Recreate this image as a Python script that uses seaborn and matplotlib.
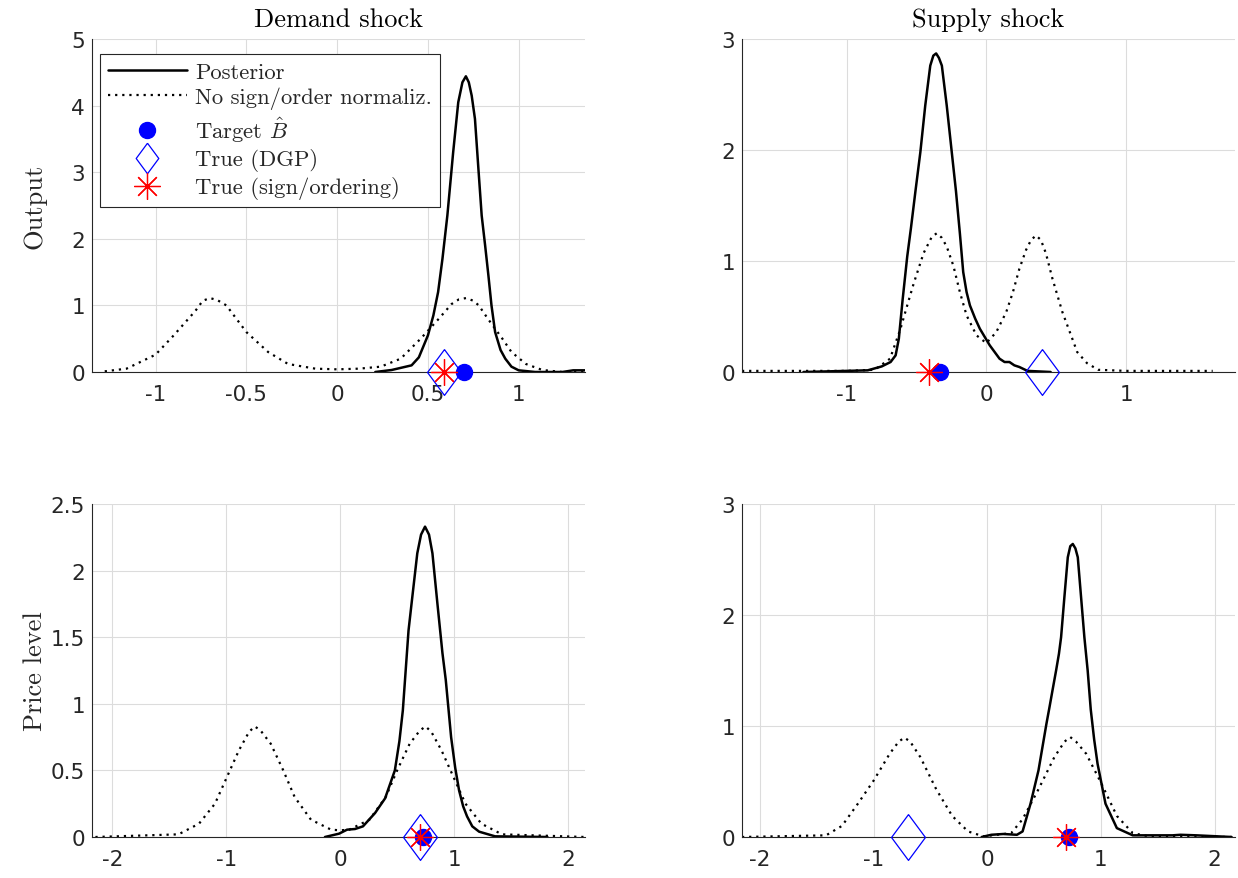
import matplotlib
matplotlib.use("Agg")
import matplotlib.pyplot as plt
import seaborn as sns
from matplotlib.lines import Line2D

# ---- Demand shock -> Output (top left) ----
do_post_x = [0.21, 0.30, 0.41, 0.45, 0.50, 0.53, 0.556, 0.58, 0.607, 0.639, 0.667, 0.69, 0.709,
             0.725, 0.741, 0.759, 0.778, 0.796, 0.815, 0.833, 0.85, 0.87, 0.90, 0.926, 0.96,
             1.0, 1.09, 1.24, 1.30, 1.38]
do_post_y = [0.0, 0.03, 0.10, 0.22, 0.55, 0.85, 1.2, 1.7, 2.35, 3.3, 4.05, 4.35, 4.44,
             4.35, 4.15, 3.8, 3.05, 2.35, 1.9, 1.45, 1.0, 0.6, 0.33, 0.2, 0.08,
             0.025, 0.0, 0.0, 0.025, 0.025]
do_raw_x = [-1.28, -1.16, -1.0, -0.9, -0.78, -0.74, -0.7, -0.66, -0.61, -0.5, -0.38, -0.27, -0.12,
            0.0, 0.12, 0.24, 0.35, 0.46, 0.56, 0.63, 0.67, 0.71, 0.75, 0.78, 0.83, 0.91, 0.96,
            1.04, 1.13, 1.24, 1.36]
do_raw_y = [0.01, 0.05, 0.26, 0.55, 0.92, 1.07, 1.11, 1.08, 1.0, 0.6, 0.3, 0.12, 0.05,
            0.04, 0.05, 0.08, 0.2, 0.5, 0.8, 1.02, 1.09, 1.11, 1.07, 1.0, 0.8, 0.5, 0.3,
            0.12, 0.03, 0.0, 0.0]
do_marks = {"target": 0.70, "dgp": 0.59, "sign": 0.59}

# ---- Supply shock -> Output (top right) ----
so_post_x = [-1.31, -0.85, -0.75, -0.686, -0.65, -0.627, -0.6, -0.567, -0.54, -0.508, -0.473,
             -0.438, -0.402, -0.38, -0.36, -0.34, -0.319, -0.284, -0.248, -0.218, -0.19, -0.166,
             -0.142, -0.118, -0.08, -0.047, 0.024, 0.094, 0.13, 0.165, 0.2, 0.236, 0.294, 0.46]
so_post_y = [0.0, 0.015, 0.05, 0.09, 0.15, 0.3, 0.65, 1.04, 1.3, 1.63, 1.98,
             2.40, 2.76, 2.85, 2.87, 2.83, 2.76, 2.40, 1.98, 1.63, 1.25, 0.9,
             0.72, 0.6, 0.48, 0.39, 0.24, 0.12, 0.09, 0.09, 0.06, 0.045, 0.01, 0.0]
so_raw_x = [-1.75, -1.0, -0.8, -0.69, -0.615, -0.567, -0.52, -0.45, -0.39, -0.355, -0.32, -0.284,
            -0.236, -0.19, -0.142, -0.071, 0.0, 0.071, 0.142, 0.19, 0.236, 0.284, 0.32, 0.355,
            0.39, 0.426, 0.473, 0.544, 0.615, 0.65, 0.72, 0.8, 1.0, 1.62]
so_raw_y = [0.01, 0.01, 0.02, 0.12, 0.39, 0.6, 0.8, 1.07, 1.22, 1.25, 1.21, 1.13,
            0.955, 0.72, 0.51, 0.33, 0.26, 0.36, 0.54, 0.72, 0.93, 1.1, 1.19, 1.23,
            1.19, 1.07, 0.84, 0.54, 0.3, 0.18, 0.08, 0.02, 0.01, 0.01]
so_marks = {"target": -0.33, "dgp": 0.40, "sign": -0.41}

# ---- Demand shock -> Price level (bottom left) ----
dp_post_x = [-0.134, -0.01, 0.06, 0.13, 0.20, 0.306, 0.394, 0.48, 0.52, 0.55, 0.575, 0.60, 0.633,
             0.677, 0.71, 0.745, 0.78, 0.81, 0.854, 0.898, 0.927, 0.95, 0.974, 1.01, 1.044,
             1.08, 1.114, 1.16, 1.22, 1.36, 1.82]
dp_post_y = [0.0, 0.025, 0.055, 0.06, 0.08, 0.18, 0.29, 0.5, 0.72, 0.95, 1.25, 1.55, 1.8,
             2.13, 2.27, 2.33, 2.27, 2.13, 1.75, 1.38, 1.18, 0.97, 0.75, 0.52, 0.35,
             0.23, 0.155, 0.08, 0.04, 0.005, 0.0]
dp_raw_x = [-2.15, -1.42, -1.24, -1.1, -0.995, -0.89, -0.8, -0.75, -0.7, -0.61, -0.5, -0.4, -0.257,
            -0.08, 0.0, 0.08, 0.257, 0.4, 0.5, 0.61, 0.7, 0.75, 0.8, 0.89, 0.995, 1.1, 1.24,
            1.42, 2.15]
dp_raw_y = [0.0, 0.02, 0.1, 0.25, 0.45, 0.65, 0.79, 0.83, 0.8, 0.7, 0.5, 0.3, 0.13,
            0.055, 0.05, 0.055, 0.13, 0.3, 0.5, 0.7, 0.8, 0.83, 0.79, 0.65, 0.45, 0.25, 0.1,
            0.02, 0.0]
dp_marks = {"target": 0.73, "dgp": 0.70, "sign": 0.70}

# ---- Supply shock -> Price level (bottom right) ----
sp_post_x = [-0.05, 0.035, 0.14, 0.26, 0.31, 0.38, 0.45, 0.52, 0.547, 0.575, 0.605, 0.63, 0.649,
             0.678, 0.708, 0.73, 0.752, 0.775, 0.796, 0.825, 0.854, 0.883, 0.91, 0.94, 0.97,
             1.04, 1.14, 1.28, 1.63, 1.70, 1.84, 2.15]
sp_post_y = [0.0, 0.02, 0.027, 0.02, 0.05, 0.3, 0.6, 1.02, 1.17, 1.33, 1.5, 1.65, 1.8,
             2.16, 2.52, 2.62, 2.64, 2.6, 2.52, 2.16, 1.80, 1.50, 1.15, 0.88, 0.66,
             0.3, 0.08, 0.015, 0.015, 0.02, 0.015, 0.0]
sp_raw_x = [-2.16, -1.42, -1.28, -1.14, -1.0, -0.86, -0.78, -0.73, -0.68, -0.59, -0.45, -0.31,
            -0.17, -0.035, 0.21, 0.31, 0.45, 0.59, 0.68, 0.73, 0.78, 0.87, 1.0, 1.14, 1.28,
            1.42, 2.15]
sp_raw_y = [0.0, 0.015, 0.1, 0.3, 0.51, 0.75, 0.86, 0.895, 0.86, 0.72, 0.43, 0.19,
            0.05, 0.006, 0.035, 0.16, 0.43, 0.72, 0.86, 0.9, 0.86, 0.75, 0.49, 0.19, 0.035,
            0.006, 0.0]
sp_marks = {"target": 0.72, "dgp": -0.70, "sign": 0.69}

titles = ["Demand shock", "Supply shock"]
ylabels = ["Output", "Price level"]
legend_labels = ["Posterior", "No sign/order normaliz.", r"Target $\hat{B}$",
                 "True (DGP)", "True (sign/ordering)"]

top_left_ticks = [-1, -0.5, 0, 0.5, 1]
top_left_ticklabels = ["-1", "-0.5", "0", "0.5", "1"]
top_right_ticks = [-1, 0, 1]
top_right_ticklabels = ["-1", "0", "1"]
bottom_ticks = [-2, -1, 0, 1, 2]
bottom_ticklabels = ["-2", "-1", "0", "1", "2"]
yticks_5 = [0, 1, 2, 3, 4, 5]
yticks_3 = [0, 1, 2, 3]
yticks_25 = [0, 0.5, 1, 1.5, 2, 2.5]
yticklabels_25 = ["0", "0.5", "1", "1.5", "2", "2.5"]

sns.set_style("white")
plt.rcParams["font.family"] = ["DejaVu Sans"]
plt.rcParams["mathtext.fontset"] = "cm"
plt.rcParams["axes.unicode_minus"] = False

AXC = "#262626"
SERIF = "cmr10"
diamond = [(0, 0.5), (0.37, 0), (0, -0.5), (-0.37, 0), (0, 0.5)]
asterisk = (8, 2, 0)

fig = plt.figure(figsize=(12.38, 8.79), dpi=100)
W, H = 1238, 879


def make_ax(left_px, top_px):
    return fig.add_axes([left_px / W, 1 - (top_px + 333) / H, 493 / W, 333 / H])


ax_do = make_ax(92, 40)
ax_so = make_ax(742, 40)
ax_dp = make_ax(92, 505)
ax_sp = make_ax(742, 505)


def draw_panel(ax, post_x, post_y, raw_x, raw_y, marks, xlim, ylim, xticks, xticklabels,
               yticks, yticklabels):
    ax.grid(True, color="#dcdcdc", lw=0.8)
    ax.set_axisbelow(True)
    sns.lineplot(x=raw_x, y=raw_y, ax=ax, color="k", lw=1.6, linestyle=(0, (1, 2.2)),
                 sort=False, estimator=None)
    sns.lineplot(x=post_x, y=post_y, ax=ax, color="k", lw=1.8, sort=False, estimator=None)
    ax.plot([marks["target"]], [0], marker="o", ms=11.5, color="blue", ls="none",
            clip_on=False, zorder=5)
    ax.plot([marks["dgp"]], [0], marker=diamond, ms=33, mfc="none", mec="blue", mew=0.9,
            ls="none", clip_on=False, zorder=6)
    ax.plot([marks["sign"]], [0], marker=asterisk, ms=19, color="red", mew=0.9, ls="none",
            clip_on=False, zorder=7)
    ax.set_xlim(xlim)
    ax.set_ylim(ylim)
    ax.set_xticks(xticks)
    ax.set_xticklabels(xticklabels)
    ax.set_yticks(yticks)
    ax.set_yticklabels(yticklabels)
    ax.tick_params(direction="in", length=4, width=0.7, color=AXC, labelcolor=AXC,
                   labelsize=15.5)
    ax.tick_params(axis="x", pad=9)
    ax.tick_params(axis="y", pad=5)
    for side in ["top", "right"]:
        ax.spines[side].set_visible(False)
    for side in ["left", "bottom"]:
        ax.spines[side].set_color(AXC)
        ax.spines[side].set_linewidth(0.8)


draw_panel(ax_do, do_post_x, do_post_y, do_raw_x, do_raw_y, do_marks, (-1.35, 1.365), (0, 5),
           top_left_ticks, top_left_ticklabels, yticks_5, [str(v) for v in yticks_5])
draw_panel(ax_so, so_post_x, so_post_y, so_raw_x, so_raw_y, so_marks, (-1.75, 1.78), (0, 3),
           top_right_ticks, top_right_ticklabels, yticks_3, [str(v) for v in yticks_3])
draw_panel(ax_dp, dp_post_x, dp_post_y, dp_raw_x, dp_raw_y, dp_marks, (-2.18, 2.15), (0, 2.5),
           bottom_ticks, bottom_ticklabels, yticks_25, yticklabels_25)
draw_panel(ax_sp, sp_post_x, sp_post_y, sp_raw_x, sp_raw_y, sp_marks, (-2.16, 2.18), (0, 3),
           bottom_ticks, bottom_ticklabels, yticks_3, [str(v) for v in yticks_3])

ax_do.set_title(titles[0], fontfamily=SERIF, fontsize=19, pad=9, color="k")
ax_so.set_title(titles[1], fontfamily=SERIF, fontsize=19, pad=9, color="k")
ax_do.set_ylabel(ylabels[0], fontfamily=SERIF, fontsize=19, color="#262626")
ax_dp.set_ylabel(ylabels[1], fontfamily=SERIF, fontsize=19, color="#262626")
ax_do.yaxis.set_label_coords(-0.092, 0.5)
ax_dp.yaxis.set_label_coords(-0.092, 0.5)

handles = [
    Line2D([], [], color="k", lw=1.8),
    Line2D([], [], color="k", lw=1.6, linestyle=(0, (1, 2.2))),
    Line2D([], [], marker="o", ms=11.5, color="blue", ls="none"),
    Line2D([], [], marker=diamond, ms=22, mfc="none", mec="blue", mew=0.9, ls="none"),
    Line2D([], [], marker=asterisk, ms=19, color="red", mew=0.9, ls="none"),
]
leg = ax_do.legend(handles, legend_labels, loc="upper left", bbox_to_anchor=(0.016, 0.955),
                   borderaxespad=0, prop={"family": SERIF, "size": 16.3}, handlelength=3.5,
                   handletextpad=0.35, labelspacing=0.22, borderpad=0.35, fancybox=False,
                   framealpha=1, edgecolor="#262626")
leg.get_frame().set_linewidth(0.8)

fig.savefig("out.png", dpi=100)
